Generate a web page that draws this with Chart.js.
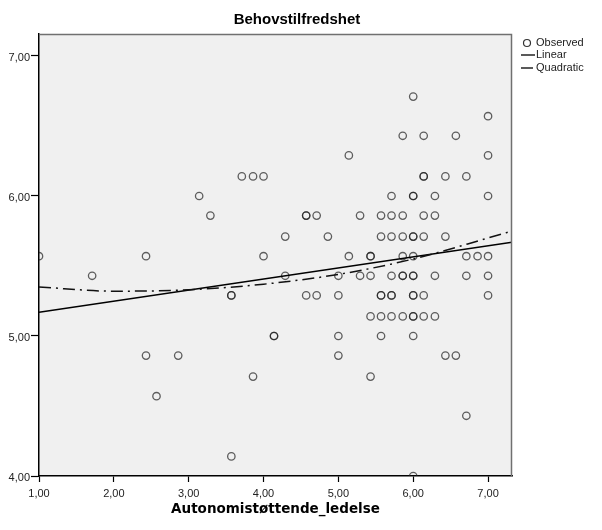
<!DOCTYPE html>
<html>
<head>
<meta charset="utf-8">
<script src="https://cdn.jsdelivr.net/npm/chart.js@4"></script>
<style>
  html, body { margin: 0; padding: 0; background: #fff; }
</style>
</head>
<body>
<canvas id="grafico" width="602" height="530"></canvas>
<script>
// observed points (Autonomistøttende_ledelse, Behovstilfredshet)
const obsX = [
  6.00,
  7.00,
  5.86, 6.14, 6.57,
  5.14, 7.00,
  3.71, 3.86, 4.00, 6.14, 6.14, 6.43, 6.71,
  3.14, 5.71, 6.00, 6.00, 6.29, 7.00,
  3.29, 4.57, 4.57, 4.71, 5.29, 5.57, 5.71, 5.86, 6.14, 6.29,
  4.29, 4.86, 5.57, 5.71, 5.86, 6.00, 6.00, 6.14, 6.43,
  1.00, 2.43, 4.00, 5.14, 5.43, 5.43, 5.86, 6.00, 6.71, 6.86, 7.00,
  1.71, 4.29, 5.00, 5.29, 5.43, 5.71, 5.86, 5.86, 6.00, 6.00, 6.29, 6.71, 7.00,
  3.57, 3.57, 4.57, 4.71, 5.00, 5.57, 5.57, 5.71, 5.71, 6.00, 6.00, 6.14, 7.00,
  5.43, 5.57, 5.71, 5.86, 6.00, 6.00, 6.14, 6.29,
  4.14, 4.14, 5.00, 5.57, 6.00,
  2.43, 2.86, 5.00, 6.43, 6.57,
  3.86, 5.43,
  2.57,
  6.71,
  3.57,
  6.00
];
const obsY = [
  6.71,
  6.57,
  6.43, 6.43, 6.43,
  6.29, 6.29,
  6.14, 6.14, 6.14, 6.14, 6.14, 6.14, 6.14,
  6.00, 6.00, 6.00, 6.00, 6.00, 6.00,
  5.86, 5.86, 5.86, 5.86, 5.86, 5.86, 5.86, 5.86, 5.86, 5.86,
  5.71, 5.71, 5.71, 5.71, 5.71, 5.71, 5.71, 5.71, 5.71,
  5.57, 5.57, 5.57, 5.57, 5.57, 5.57, 5.57, 5.57, 5.57, 5.57, 5.57,
  5.43, 5.43, 5.43, 5.43, 5.43, 5.43, 5.43, 5.43, 5.43, 5.43, 5.43, 5.43, 5.43,
  5.29, 5.29, 5.29, 5.29, 5.29, 5.29, 5.29, 5.29, 5.29, 5.29, 5.29, 5.29, 5.29,
  5.14, 5.14, 5.14, 5.14, 5.14, 5.14, 5.14, 5.14,
  5.00, 5.00, 5.00, 5.00, 5.00,
  4.86, 4.86, 4.86, 4.86, 4.86,
  4.71, 4.71,
  4.57,
  4.43,
  4.14,
  4.00
];

// fit lines
const linX = [1.00, 7.32];
const linY = [5.17, 5.67];
const quadX = [1.00, 2.00, 3.00, 4.00, 5.00, 6.00, 7.00, 7.32];
const quadY = [5.35, 5.32, 5.33, 5.37, 5.44, 5.55, 5.70, 5.75];

const xTicks = [1, 2, 3, 4, 5, 6, 7];
const yTicks = [4, 5, 6, 7];

const titulo = 'Behovstilfredshet';
const tituloX = 'Autonomistøttende_ledelse';

function pares(xs, ys) {
  return xs.map((x, i) => ({ x: x, y: ys[i] }));
}
function formata(v) {
  return v.toFixed(2).replace('.', ',');
}

// background, frame, title and legend
const fundoPlugin = {
  id: 'fundo',
  beforeDraw(chart) {
    const { ctx, chartArea: a } = chart;
    ctx.save();
    ctx.fillStyle = '#ffffff';
    ctx.fillRect(0, 0, chart.width, chart.height);
    ctx.fillStyle = '#f0f0f0';
    ctx.fillRect(a.left, a.top, a.right - a.left, a.bottom - a.top);
    ctx.restore();
  },
  afterDraw(chart) {
    const { ctx, chartArea: a } = chart;
    ctx.save();
    // frame
    ctx.strokeStyle = '#707070';
    ctx.lineWidth = 1.5;
    ctx.beginPath();
    ctx.moveTo(a.left, a.top + 0.5);
    ctx.lineTo(a.right - 0.5, a.top + 0.5);
    ctx.lineTo(a.right - 0.5, a.bottom);
    ctx.stroke();

    // title
    ctx.fillStyle = '#000';
    ctx.font = 'bold 15px "Liberation Sans", Arial, sans-serif';
    ctx.textAlign = 'center';
    ctx.textBaseline = 'middle';
    ctx.fillText(titulo, 297, 20);

    // legend
    const ds = chart.data.datasets;
    ctx.font = '11px "Liberation Sans", Arial, sans-serif';
    ctx.textAlign = 'left';
    ctx.fillStyle = '#222';
    const lx = 521, ly = [43, 55, 68];
    ctx.strokeStyle = '#333';
    ctx.lineWidth = 1.2;
    ctx.beginPath();
    ctx.arc(lx + 6, ly[0], 3.5, 0, Math.PI * 2);
    ctx.stroke();
    ctx.fillText(ds[0].label, lx + 15, ly[0]);
    for (let i = 1; i < 3; i++) {
      ctx.strokeStyle = '#000';
      ctx.lineWidth = 1.3;
      ctx.setLineDash(ds[i].borderDash || []);
      ctx.beginPath();
      ctx.moveTo(lx, ly[i]);
      ctx.lineTo(lx + 14, ly[i]);
      ctx.stroke();
      ctx.setLineDash([]);
      ctx.fillText(ds[i].label, lx + 15, ly[i]);
    }
    ctx.restore();
  }
};

const ctx = document.getElementById('grafico').getContext('2d');
const grafico = new Chart(ctx, {
  type: 'scatter',
  data: {
    datasets: [
      {
        label: 'Observed',
        data: pares(obsX, obsY),
        pointStyle: 'circle',
        pointRadius: 3.7,
        pointBorderWidth: 1.3,
        borderColor: 'rgba(30,30,30,0.7)',
        backgroundColor: 'rgba(0,0,0,0)',
        order: 3
      },
      {
        label: 'Linear',
        data: pares(linX, linY),
        showLine: true,
        pointRadius: 0,
        borderColor: '#000',
        borderWidth: 1.5,
        order: 2
      },
      {
        label: 'Quadratic',
        data: pares(quadX, quadY),
        showLine: true,
        pointRadius: 0,
        cubicInterpolationMode: 'monotone',
        borderColor: '#111',
        borderWidth: 1.5,
        borderDash: [12, 5, 2, 5],
        order: 1
      }
    ]
  },
  options: {
    responsive: false,
    animation: false,
    layout: { padding: { top: 34, right: 90, left: 0, bottom: 0 } },
    plugins: {
      legend: { display: false },
      title: { display: false },
      tooltip: { enabled: false }
    },
    scales: {
      x: {
        type: 'linear',
        min: 1,
        max: 7.32,
        afterFit: (s) => { s.height = 54; },
        afterBuildTicks: (s) => { s.ticks = xTicks.map(v => ({ value: v })); },
        ticks: {
          callback: (v) => formata(v),
          font: { family: '"Liberation Sans", Arial, sans-serif', size: 11 },
          color: '#222',
          padding: 5,
          maxRotation: 0
        },
        grid: { drawOnChartArea: false, drawTicks: true, tickLength: 6, color: '#000', tickWidth: 1.2 },
        border: { display: true, color: '#000', width: 1.5 },
        title: {
          display: true,
          text: tituloX,
          color: '#000',
          font: { family: '"DejaVu Sans", Verdana, sans-serif', size: 13.5, weight: 'bold' },
          padding: { top: 0, bottom: 12 }
        }
      },
      y: {
        type: 'linear',
        min: 4,
        max: 7.157,
        afterFit: (s) => { s.width = 39; },
        afterBuildTicks: (s) => { s.ticks = yTicks.map(v => ({ value: v })); },
        ticks: {
          callback: (v) => formata(v),
          font: { family: '"Liberation Sans", Arial, sans-serif', size: 11 },
          color: '#222',
          padding: 1,
          labelOffset: 2
        },
        grid: { drawOnChartArea: false, drawTicks: true, tickLength: 8, color: '#000', tickWidth: 1.2 },
        border: { display: true, color: '#000', width: 1.5 }
      }
    }
  },
  plugins: [fundoPlugin]
});
</script>
</body>
</html>
